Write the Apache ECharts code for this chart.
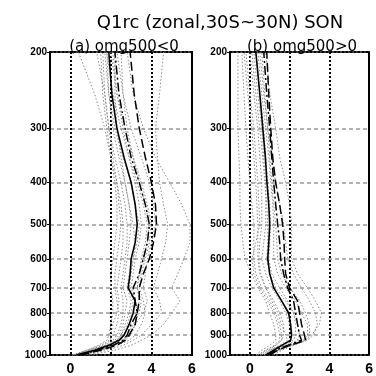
<!DOCTYPE html>
<html>
<head>
<meta charset="utf-8">
<script src="https://cdn.jsdelivr.net/npm/echarts@6/dist/echarts.min.js"></script>
<style>
html, body { margin: 0; padding: 0; background: #fff; }
#chart { width: 376px; height: 376px; }
</style>
</head>
<body>
<div id="chart"></div>
<script>
// pressure levels (hPa), bottom to top
var pLevels = [1000, 975, 950, 925, 900, 850, 800, 750, 700, 650, 600, 550, 500, 450, 400, 350, 300, 250, 200];
var pTicks = [200, 300, 400, 500, 600, 700, 800, 900, 1000];
var xTicks = [0, 2, 4, 6];

// (a) omg500<0
var solidA = [0.3, 1.2, 1.9, 2.4, 2.65, 2.9, 3.1, 3.2, 2.85, 2.95, 3.0, 3.2, 3.3, 3.2, 3.0, 2.65, 2.3, 2.05, 1.9];
var dashedA = [0.5, 1.5, 2.3, 2.7, 2.9, 3.2, 3.3, 3.4, 3.4, 3.6, 3.9, 4.1, 4.25, 4.2, 4.0, 3.7, 3.4, 3.15, 2.95];
var dashdotA = [0.4, 1.3, 2.1, 2.6, 2.8, 3.0, 3.3, 3.2, 3.1, 3.4, 3.6, 3.8, 3.9, 3.7, 3.4, 3.0, 2.7, 2.4, 2.2];
var modelsA = [
	[1.0, 2.2, 3.0, 3.5, 4.0, 4.6, 5.0, 5.4, 5.0, 5.3, 5.6, 5.9, 5.9, 5.5, 4.9, 4.2, 3.6, 3.1, 2.8],
	[0.8, 1.8, 2.6, 3.1, 3.5, 4.0, 4.5, 4.4, 4.1, 4.3, 4.5, 4.7, 4.8, 4.6, 4.4, 4.3, 4.2, 4.4, 4.6],
	[0.2, 0.8, 1.4, 1.8, 1.9, 2.0, 2.1, 2.1, 2.0, 2.0, 2.1, 2.2, 2.3, 2.3, 2.2, 2.0, 1.7, 1.2, 0.4],
	[0.1, 0.9, 1.6, 2.0, 2.0, 2.1, 2.3, 2.4, 2.3, 2.4, 2.5, 2.6, 2.6, 2.5, 2.3, 2.0, 1.8, 1.6, 1.5],
	[0.3, 1.1, 1.8, 2.2, 2.4, 2.6, 2.7, 2.8, 2.6, 2.7, 2.8, 2.9, 3.0, 2.9, 2.7, 2.4, 2.1, 1.9, 1.7],
	[0.4, 1.3, 2.0, 2.5, 2.8, 3.1, 3.4, 3.5, 3.3, 3.4, 3.5, 3.7, 3.8, 3.6, 3.3, 2.9, 2.5, 2.1, 1.8],
	[0.2, 1.0, 1.7, 2.1, 2.3, 2.5, 2.6, 2.6, 2.5, 2.6, 2.7, 2.8, 2.8, 2.7, 2.5, 2.2, 1.9, 1.7, 1.6],
	[0.5, 1.5, 2.3, 2.9, 3.2, 3.5, 3.7, 3.6, 3.4, 3.5, 3.7, 3.9, 4.0, 3.8, 3.5, 3.1, 2.7, 2.3, 2.1],
	[0.3, 1.2, 1.9, 2.3, 2.5, 2.8, 3.0, 3.1, 2.9, 3.0, 3.1, 3.3, 3.4, 3.2, 3.0, 2.6, 2.2, 1.9, 1.8],
	[0.6, 1.5, 2.2, 2.6, 2.9, 3.2, 3.6, 3.8, 3.6, 3.7, 3.8, 4.0, 4.2, 4.1, 3.9, 3.5, 3.0, 2.6, 2.3],
	[0.1, 0.8, 1.5, 1.9, 2.1, 2.3, 2.4, 2.3, 2.2, 2.2, 2.3, 2.4, 2.5, 2.4, 2.3, 2.1, 1.9, 1.7, 1.3],
	[0.4, 1.4, 2.1, 2.6, 2.9, 3.2, 3.3, 3.2, 3.0, 3.1, 3.2, 3.4, 3.5, 3.4, 3.2, 2.9, 2.6, 2.3, 2.0],
	[0.2, 1.0, 1.8, 2.3, 2.5, 2.7, 2.9, 3.0, 2.8, 2.9, 3.1, 3.2, 3.1, 2.9, 2.7, 2.5, 2.3, 2.2, 2.2],
	[0.5, 1.4, 2.2, 2.7, 3.0, 3.2, 3.3, 3.4, 3.3, 3.4, 3.6, 3.8, 3.9, 3.7, 3.4, 3.1, 2.8, 2.6, 2.5]
];

// (b) omg500>0
var solidB = [0.8, 1.2, 1.6, 2.05, 2.1, 2.05, 1.95, 1.6, 1.2, 1.0, 0.9, 0.95, 1.0, 0.95, 0.86, 0.78, 0.65, 0.5, 0.3];
var dashedB = [1.0, 1.4, 2.0, 2.8, 2.75, 2.6, 2.5, 2.4, 2.0, 1.8, 1.75, 1.72, 1.65, 1.5, 1.3, 1.15, 1.05, 0.95, 0.85];
var dashdotB = [0.9, 1.3, 1.9, 2.6, 2.5, 2.4, 2.3, 2.2, 1.9, 1.7, 1.55, 1.5, 1.4, 1.3, 1.2, 1.1, 1.0, 0.85, 0.7];
var modelsB = [
	[0.3, 0.6, 1.0, 1.3, 1.3, 1.2, 1.0, 0.8, 0.4, 0.1, -0.25, -0.35, -0.45, -0.5, -0.5, -0.55, -0.6, -0.6, -0.6],
	[0.6, 1.0, 1.5, 1.9, 1.8, 1.6, 1.4, 1.1, 0.8, 0.5, 0.4, 0.4, 0.4, 0.35, 0.3, 0.2, 0.1, -0.1, -0.3],
	[1.2, 1.6, 2.2, 2.8, 3.1, 3.5, 3.6, 3.3, 2.9, 2.4, 2.1, 2.1, 2.1, 2.0, 1.8, 1.5, 1.3, 1.0, 0.8],
	[1.0, 1.5, 2.1, 2.9, 3.2, 3.4, 3.3, 3.0, 2.6, 2.2, 1.9, 1.8, 1.7, 1.5, 1.3, 1.1, 0.9, 0.7, 0.5],
	[0.7, 1.0, 1.6, 2.0, 2.1, 2.0, 1.8, 1.5, 1.1, 0.8, 0.6, 0.7, 0.8, 0.8, 0.8, 0.7, 0.6, 0.4, 0.2],
	[0.5, 0.9, 1.3, 1.6, 1.7, 1.7, 1.5, 1.2, 0.8, 0.55, 0.45, 0.5, 0.6, 0.6, 0.6, 0.5, 0.4, 0.2, 0.0],
	[0.9, 1.4, 2.0, 2.7, 2.9, 2.9, 2.6, 2.3, 1.8, 1.4, 1.2, 1.2, 1.2, 1.15, 1.05, 0.95, 0.8, 0.6, 0.4],
	[0.8, 1.2, 1.8, 2.4, 2.5, 2.4, 2.2, 1.8, 1.3, 1.0, 0.85, 0.9, 0.9, 0.85, 0.75, 0.65, 0.5, 0.3, 0.1],
	[0.4, 0.8, 1.2, 1.5, 1.5, 1.4, 1.2, 0.9, 0.5, 0.2, 0.1, 0.3, 0.5, 0.45, 0.4, 0.3, 0.2, 0.0, -0.2],
	[0.9, 1.4, 2.1, 2.8, 3.0, 3.0, 2.8, 2.5, 2.0, 1.6, 1.4, 1.35, 1.3, 1.2, 1.1, 1.0, 0.9, 0.75, 0.6],
	[0.7, 1.1, 1.7, 2.2, 2.3, 2.3, 2.2, 1.9, 1.5, 1.1, 0.95, 1.0, 1.05, 1.0, 0.9, 0.8, 0.7, 0.5, 0.3],
	[0.4, 0.8, 1.3, 1.6, 1.6, 1.5, 1.3, 1.0, 0.6, 0.3, 0.2, 0.2, 0.2, 0.1, 0.0, -0.1, -0.2, -0.3, -0.4]
];

var chart = echarts.init(document.getElementById('chart'));

function pairs(arr) {
	return pLevels.map(function(p, i) { return [arr[i], p]; });
}

function line(arr, idx, style) {
	return {
		type: 'line',
		xAxisIndex: idx,
		yAxisIndex: idx,
		data: pairs(arr),
		symbol: 'none',
		silent: true,
		animation: false,
		z: style.z,
		lineStyle: style.lineStyle
	};
}

var grayStyle = { z: 2, lineStyle: { color: '#8a8a8a', width: 1, type: [1.5, 2] } };
var solidStyle = { z: 5, lineStyle: { color: '#000', width: 1.6, type: 'solid' } };
var dashStyle = { z: 5, lineStyle: { color: '#000', width: 1.5, type: [9, 4] } };
var dashdotStyle = { z: 5, lineStyle: { color: '#000', width: 1.5, type: [9, 3, 2, 3] } };

function buildAxes(i, left) {
	var grid = { left: left, top: 52, width: 142, height: 307 };
	var xMain = {
		type: 'value', gridIndex: i, min: -1, max: 6, position: 'bottom',
		axisLine: { show: true, onZero: false, lineStyle: { color: '#000', width: 2, type: [2, 2] } },
		axisTick: { show: false, customValues: xTicks },
		axisLabel: {
			customValues: xTicks, color: '#000', fontSize: 14, fontWeight: 'bold',
			fontFamily: 'Liberation Sans', margin: 7
		},
		splitLine: { show: true, lineStyle: { color: '#000', width: 2, type: [2, 2] } }
	};
	var yMain = {
		type: 'log', logBase: 10, gridIndex: i, min: 200, max: 1000, inverse: true, position: 'left',
		axisLine: { show: true, onZero: false, lineStyle: { color: '#000', width: 2 } },
		axisTick: { show: true, customValues: pTicks, length: 3, inside: false, lineStyle: { color: '#000', width: 1 } },
		axisLabel: {
			customValues: pTicks, color: '#000', fontSize: 10, fontWeight: 'bold',
			fontFamily: 'Liberation Sans Narrow, Liberation Sans', margin: 3,
			formatter: function(v) { return String(Math.round(v)); }
		},
		splitLine: { show: true, lineStyle: { color: '#999', width: 1.5, type: [4, 3] } }
	};
	return { grid: grid, x: xMain, y: yMain };
}

var a = buildAxes(0, 50);
var b = buildAxes(1, 230);

// frame pieces: dotted top edge and solid right edge
function topAxis(i) {
	return {
		type: 'value', gridIndex: i, min: -1, max: 6, position: 'top',
		axisLine: { show: true, onZero: false, lineStyle: { color: '#000', width: 2, type: [2, 2] } },
		axisTick: { show: false }, axisLabel: { show: false }, splitLine: { show: false }
	};
}
function rightAxis(i) {
	return {
		type: 'log', logBase: 10, gridIndex: i, min: 200, max: 1000, inverse: true, position: 'right',
		axisLine: { show: true, onZero: false, lineStyle: { color: '#000', width: 2 } },
		axisTick: { show: false }, axisLabel: { show: false }, splitLine: { show: false }
	};
}

var series = [];
modelsA.forEach(function(m) { series.push(line(m, 0, grayStyle)); });
series.push(line(dashdotA, 0, dashdotStyle));
series.push(line(dashedA, 0, dashStyle));
series.push(line(solidA, 0, solidStyle));
modelsB.forEach(function(m) { series.push(line(m, 1, grayStyle)); });
series.push(line(dashdotB, 1, dashdotStyle));
series.push(line(dashedB, 1, dashStyle));
series.push(line(solidB, 1, solidStyle));

var option = {
	backgroundColor: '#fff',
	animation: false,
	title: [{
		text: 'Q1rc (zonal,30S~30N) SON',
		left: 215, top: 9, textAlign: 'center',
		textStyle: { fontFamily: 'DejaVu Sans', fontSize: 18, fontWeight: 'normal', color: '#000' }
	}, {
		text: '(a) omg500<0',
		left: 119, top: 35, textAlign: 'center',
		textStyle: { fontFamily: 'DejaVu Sans', fontSize: 15, fontWeight: 'normal', color: '#000' }
	}, {
		text: '(b) omg500>0',
		left: 297, top: 35, textAlign: 'center',
		textStyle: { fontFamily: 'DejaVu Sans', fontSize: 15, fontWeight: 'normal', color: '#000' }
	}],
	grid: [a.grid, b.grid],
	xAxis: [a.x, b.x, topAxis(0), topAxis(1)],
	yAxis: [a.y, b.y, rightAxis(0), rightAxis(1)],
	series: series
};
chart.setOption(option);
</script>
</body>
</html>
